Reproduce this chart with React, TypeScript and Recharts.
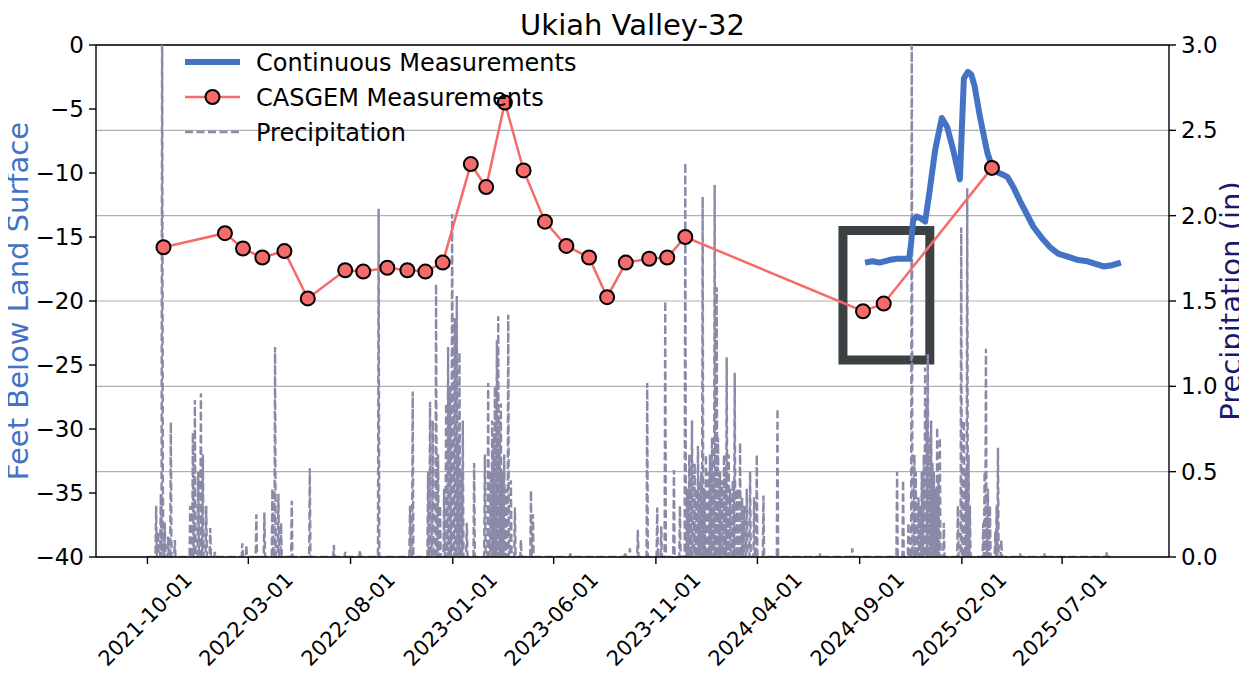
import React from 'react';
import {
  ComposedChart,
  Line,
  XAxis,
  YAxis,
  CartesianGrid,
  ReferenceLine,
  ReferenceArea,
  Legend,
} from 'recharts';

const FONT = '"DejaVu Sans", "Liberation Sans", sans-serif';
const BLUE = '#4472C4';
const RED = '#F56B6B';
const PRECIP = '#8A8AA8';
const BOX = '#3C4144';

const titleText = 'Ukiah Valley-32';
const leftLabel = 'Feet Below Land Surface';
const rightLabel = 'Precipitation (in)';
const legendNames = ['Continuous Measurements', 'CASGEM Measurements', 'Precipitation'];

// CASGEM manual measurements (feet below land surface, negative)
const casgemDates = [
  '2021-10-25', '2022-01-25', '2022-02-21', '2022-03-22', '2022-04-24', '2022-05-29',
  '2022-07-24', '2022-08-20', '2022-09-25', '2022-10-25', '2022-11-21', '2022-12-17',
  '2023-01-28', '2023-02-20', '2023-03-20', '2023-04-17', '2023-05-19', '2023-06-20',
  '2023-07-24', '2023-08-20', '2023-09-17', '2023-10-22', '2023-11-18', '2023-12-15',
  '2024-09-06', '2024-10-07', '2025-03-18',
];
const casgemValues = [
  -15.8, -14.7, -15.9, -16.6, -16.1, -19.8,
  -17.6, -17.7, -17.4, -17.6, -17.7, -17.0,
  -9.3, -11.1, -4.5, -9.8, -13.8, -15.7,
  -16.6, -19.7, -17.0, -16.7, -16.6, -15.0,
  -20.8, -20.2, -9.6,
];

// Continuous transducer record
const continuousDates = [
  '2024-09-09', '2024-09-20', '2024-10-01', '2024-10-15', '2024-10-27', '2024-11-14',
  '2024-11-17', '2024-11-20', '2024-11-25', '2024-11-30', '2024-12-08', '2024-12-15',
  '2024-12-23', '2025-01-02', '2025-01-10', '2025-01-19', '2025-01-29', '2025-02-01',
  '2025-02-04', '2025-02-10', '2025-02-15', '2025-02-20', '2025-02-28', '2025-03-11',
  '2025-03-20', '2025-04-02', '2025-04-10', '2025-04-20', '2025-04-30', '2025-05-19',
  '2025-06-01', '2025-06-13', '2025-06-25', '2025-07-13', '2025-07-25', '2025-08-08',
  '2025-08-20', '2025-09-01', '2025-09-14', '2025-09-27',
];
const continuousValues = [
  -17.0, -16.9, -17.0, -16.8, -16.7, -16.7,
  -15.5, -13.7, -13.4, -13.5, -13.8, -11.3,
  -8.2, -5.7, -6.4, -8.2, -10.5, -6.5,
  -2.6, -2.1, -2.3, -3.2, -5.6, -8.4,
  -9.8, -10.1, -10.3, -11.2, -12.3, -14.2,
  -15.1, -15.8, -16.3, -16.6, -16.8, -16.9,
  -17.1, -17.3, -17.2, -17.0,
];

// Daily precipitation: rain days read from the spikes (in)
const precipDates = [
  '2021-10-14', '2021-10-17', '2021-10-21', '2021-10-23', '2021-10-24', '2021-10-27',
  '2021-11-01', '2021-11-05', '2021-11-11', '2021-12-04', '2021-12-08', '2021-12-11',
  '2021-12-16', '2021-12-20', '2021-12-23', '2021-12-28', '2022-01-03', '2022-01-10',
  '2022-02-20', '2022-02-26', '2022-03-13', '2022-03-25', '2022-04-06', '2022-04-10',
  '2022-04-15', '2022-04-19', '2022-05-05', '2022-06-01', '2022-07-07', '2022-07-24',
  '2022-08-15', '2022-09-12', '2022-10-29', '2022-11-02', '2022-11-25', '2022-11-28',
  '2022-12-02', '2022-12-07', '2022-12-10', '2022-12-13', '2022-12-19', '2022-12-22',
  '2022-12-25', '2022-12-28', '2022-12-31', '2023-01-01', '2023-01-04', '2023-01-07',
  '2023-01-09', '2023-01-11', '2023-01-14', '2023-01-16', '2023-01-22', '2023-02-02',
  '2023-02-18', '2023-02-23', '2023-02-27', '2023-03-01', '2023-03-03', '2023-03-05',
  '2023-03-08', '2023-03-10', '2023-03-12', '2023-03-14', '2023-03-16', '2023-03-19',
  '2023-03-22', '2023-03-25', '2023-03-29', '2023-04-04', '2023-04-13', '2023-04-28',
  '2023-05-01', '2023-06-26', '2023-09-16', '2023-09-23', '2023-10-05', '2023-10-19',
  '2023-11-03', '2023-11-09', '2023-11-15', '2023-11-28', '2023-12-07', '2023-12-15',
  '2023-12-18', '2023-12-21', '2023-12-23', '2023-12-25', '2023-12-29', '2024-01-01',
  '2024-01-03', '2024-01-06', '2024-01-08', '2024-01-10', '2024-01-13', '2024-01-15',
  '2024-01-19', '2024-01-21', '2024-01-24', '2024-01-26', '2024-01-28', '2024-01-31',
  '2024-02-02', '2024-02-05', '2024-02-08', '2024-02-11', '2024-02-13', '2024-02-15',
  '2024-02-18', '2024-02-20', '2024-02-24', '2024-02-27', '2024-03-02', '2024-03-06',
  '2024-03-09', '2024-03-12', '2024-03-16', '2024-03-21', '2024-03-27', '2024-03-31',
  '2024-04-10', '2024-05-01', '2024-07-04', '2024-08-21', '2024-10-27', '2024-11-05',
  '2024-11-13', '2024-11-18', '2024-11-22', '2024-11-24', '2024-11-28', '2024-12-01',
  '2024-12-03', '2024-12-06', '2024-12-08', '2024-12-10', '2024-12-12', '2024-12-14',
  '2024-12-17', '2024-12-19', '2024-12-21', '2024-12-24', '2024-12-26', '2024-12-28',
  '2024-12-30', '2025-01-05', '2025-01-26', '2025-01-31', '2025-02-04', '2025-02-07',
  '2025-02-09', '2025-02-11', '2025-02-13', '2025-03-05', '2025-03-07', '2025-03-09',
  '2025-03-12', '2025-03-15', '2025-03-23', '2025-03-25', '2025-03-27', '2025-04-01',
  '2025-04-29', '2025-06-05', '2025-09-06',
];
const precipValues = [
  0.30, 0.15, 0.37, 3.30, 0.45, 0.20,
  0.12, 0.79, 0.10, 0.30, 0.73, 0.92,
  0.50, 0.96, 0.60, 0.30, 0.17, 0.03,
  0.08, 0.07, 0.25, 0.26, 0.40, 1.23,
  0.37, 0.20, 0.33, 0.52, 0.07, 0.03,
  0.04, 2.04, 0.30, 0.97, 0.50, 0.91,
  0.80, 1.60, 0.60, 0.30, 0.40, 0.90,
  1.23, 1.00, 2.01, 0.90, 1.40, 1.53,
  0.70, 1.20, 0.50, 0.80, 0.20, 0.55,
  0.60, 1.02, 0.50, 0.80, 0.70, 1.00,
  1.27, 1.41, 0.80, 0.90, 0.50, 0.60,
  0.40, 1.42, 0.45, 0.29, 0.10, 0.39,
  0.25, 0.02, 0.03, 0.05, 0.16, 1.02,
  0.29, 0.18, 1.50, 0.51, 0.30, 2.31,
  0.40, 0.60, 0.50, 0.80, 0.55, 0.40,
  0.65, 0.45, 0.50, 2.11, 0.40, 0.60,
  0.50, 0.60, 0.70, 0.50, 2.18, 1.58,
  0.70, 0.50, 0.45, 0.60, 0.50, 1.17,
  0.60, 0.40, 0.45, 1.08, 0.40, 0.67,
  0.35, 0.30, 0.40, 0.50, 0.35, 0.60,
  0.36, 0.87, 0.02, 0.05, 0.50, 0.45,
  0.20, 3.20, 0.60, 0.50, 0.35, 0.30,
  0.50, 0.60, 1.11, 0.90, 1.19, 0.70,
  0.80, 0.55, 0.50, 0.40, 0.76, 0.45,
  0.70, 0.20, 0.30, 1.93, 0.80, 0.50,
  2.16, 0.60, 0.30, 0.20, 0.50, 1.22,
  0.40, 0.30, 0.15, 0.30, 0.64, 0.10,
  0.02, 0.02, 0.03,
];
const precipRecord = ['2021-10-01', '2025-09-12'];

const xTickDates = [
  '2021-10-01', '2022-03-01', '2022-08-01', '2023-01-01', '2023-06-01',
  '2023-11-01', '2024-04-01', '2024-09-01', '2025-02-01', '2025-07-01',
];
const xDomainDates = ['2021-07-16', '2025-12-08'];
const depthTicks = [-40, -35, -30, -25, -20, -15, -10, -5, 0];
const precipTicks = [0, 0.5, 1.0, 1.5, 2.0, 2.5, 3.0];
const highlightBoxDates = ['2024-08-07', '2024-12-15'];
const highlightBoxDepths = [-24.6, -14.5];

const DAY_MS = 86400000;
const toDay = (s: string) =>
  Date.UTC(Number(s.slice(0, 4)), Number(s.slice(5, 7)) - 1, Number(s.slice(8, 10))) / DAY_MS;
const fromDay = (d: number) => new Date(d * DAY_MS).toISOString().slice(0, 10);

const casgemData = casgemDates.map((s, i) => ({ t: toDay(s), d: casgemValues[i] }));
const continuousData = continuousDates.map((s, i) => ({ t: toDay(s), d: continuousValues[i] }));

// Daily precipitation line: rain days plus the dry days around them
const precipMap = new Map<number, number>();
precipDates.forEach((s, i) => precipMap.set(toDay(s), precipValues[i]));
const rainDays = Array.from(precipMap.keys());
rainDays.forEach((d) => {
  [d - 1, d + 1].forEach((n) => {
    if (!precipMap.has(n)) precipMap.set(n, 0);
  });
});
precipRecord.forEach((s) => {
  const d = toDay(s);
  if (!precipMap.has(d)) precipMap.set(d, 0);
});
const precipData = Array.from(precipMap.entries())
  .sort((a, b) => a[0] - b[0])
  .map(([t, p]) => ({ t, p }));

const xTicks = xTickDates.map(toDay);
const xDomain = xDomainDates.map(toDay);

const CHART_W = 1247;
const CHART_H = 678;

const DateTick = (props: any) => {
  const { x, y, payload } = props;
  const label = fromDay(payload.value);
  const ax = x + 46;
  const ay = y + 11;
  return (
    <text
      x={ax}
      y={ay}
      transform={`rotate(-45 ${ax} ${ay})`}
      textAnchor="end"
      fontSize={21}
      fontFamily={FONT}
      fill="#000"
    >
      {label}
    </text>
  );
};

const LeftAxisLabel = (props: any) => {
  const vb = props.viewBox || { x: 0, y: 45, width: 96, height: 512 };
  const cx = vb.x + 18;
  const cy = vb.y + vb.height / 2;
  return (
    <text
      x={cx}
      y={cy}
      transform={`rotate(-90 ${cx} ${cy})`}
      textAnchor="middle"
      dominantBaseline="central"
      fontSize={29}
      fontFamily={FONT}
      fill={BLUE}
    >
      {leftLabel}
    </text>
  );
};

const RightAxisLabel = (props: any) => {
  const vb = props.viewBox || { x: 1169, y: 45, width: 78, height: 512 };
  const cx = vb.x + 62;
  const cy = vb.y + vb.height / 2;
  return (
    <text
      x={cx}
      y={cy}
      transform={`rotate(-90 ${cx} ${cy})`}
      textAnchor="middle"
      dominantBaseline="central"
      fontSize={29}
      fontFamily={FONT}
      fill="#191970"
    >
      {rightLabel}
    </text>
  );
};

const LegendContent = () => (
  <svg width={420} height={110} style={{ display: 'block', overflow: 'visible' }}>
    <line x1={0} x2={55} y1={17} y2={17} stroke={BLUE} strokeWidth={6} />
    <text x={71} y={17} dy="0.36em" fontSize={24} fontFamily={FONT} fill="#000">
      {legendNames[0]}
    </text>
    <line x1={0} x2={55} y1={52} y2={52} stroke={RED} strokeWidth={2.5} />
    <circle cx={27.5} cy={52} r={7} fill={RED} stroke="#000" strokeWidth={2} />
    <text x={71} y={52} dy="0.36em" fontSize={24} fontFamily={FONT} fill="#000">
      {legendNames[1]}
    </text>
    <line
      x1={0}
      x2={55}
      y1={87}
      y2={87}
      stroke={PRECIP}
      strokeWidth={2.4}
      strokeDasharray="8 3.5"
    />
    <text x={71} y={87} dy="0.36em" fontSize={24} fontFamily={FONT} fill="#000">
      {legendNames[2]}
    </text>
  </svg>
);

export default function App() {
  return (
    <div
      style={{
        position: 'relative',
        width: CHART_W,
        height: CHART_H,
        marginLeft: -8,
        marginTop: -8,
        background: '#fff',
      }}
    >
      <ComposedChart
        width={CHART_W}
        height={CHART_H}
        margin={{ top: 45, right: 0, bottom: 21, left: 0 }}
      >
        <CartesianGrid
          yAxisId="right"
          vertical={false}
          stroke="#b0b0b0"
          strokeWidth={1.2}
        />
        <XAxis
          dataKey="t"
          type="number"
          domain={xDomain}
          ticks={xTicks}
          interval={0}
          allowDataOverflow
          height={100}
          tickSize={7}
          tickMargin={6}
          tick={<DateTick />}
          tickLine={{ stroke: '#000', strokeWidth: 1.4 }}
          axisLine={{ stroke: '#000', strokeWidth: 1.4 }}
        />
        <YAxis
          yAxisId="left"
          type="number"
          domain={[-40, 0]}
          ticks={depthTicks}
          interval={0}
          width={96}
          tickSize={7}
          tickMargin={5}
          tickFormatter={(v: number) => (v < 0 ? `\u2212${Math.abs(v)}` : `${v}`)}
          tick={{ fill: '#000', fontSize: 23, fontFamily: FONT }}
          tickLine={{ stroke: '#000', strokeWidth: 1.4 }}
          axisLine={{ stroke: '#000', strokeWidth: 1.4 }}
          label={<LeftAxisLabel />}
        />
        <YAxis
          yAxisId="right"
          orientation="right"
          type="number"
          domain={[0, 3]}
          ticks={precipTicks}
          interval={0}
          allowDataOverflow
          width={78}
          tickSize={7}
          tickMargin={5}
          tickFormatter={(v: number) => v.toFixed(1)}
          tick={{ fill: '#000', fontSize: 23, fontFamily: FONT }}
          tickLine={{ stroke: '#000', strokeWidth: 1.4 }}
          axisLine={{ stroke: '#000', strokeWidth: 1.4 }}
          label={<RightAxisLabel />}
        />
        <ReferenceLine yAxisId="left" y={0} stroke="#000" strokeWidth={1.4} />
        <Line
          data={precipData}
          dataKey="p"
          yAxisId="right"
          type="linear"
          stroke={PRECIP}
          strokeWidth={2.4}
          strokeDasharray="8 3.5"
          dot={false}
          activeDot={false}
          isAnimationActive={false}
          legendType="none"
        />
        <Line
          data={continuousData}
          dataKey="d"
          yAxisId="left"
          type="linear"
          stroke={BLUE}
          strokeWidth={6}
          strokeLinejoin="round"
          dot={false}
          activeDot={false}
          isAnimationActive={false}
        />
        <Line
          data={casgemData}
          dataKey="d"
          yAxisId="left"
          type="linear"
          stroke={RED}
          strokeWidth={2.5}
          dot={{ r: 7, fill: RED, stroke: '#000', strokeWidth: 2 }}
          activeDot={false}
          isAnimationActive={false}
        />
        <ReferenceArea
          yAxisId="left"
          x1={toDay(highlightBoxDates[0])}
          x2={toDay(highlightBoxDates[1])}
          y1={highlightBoxDepths[0]}
          y2={highlightBoxDepths[1]}
          fill="none"
          fillOpacity={0}
          stroke={BOX}
          strokeWidth={9}
          ifOverflow="visible"
        />
        <Legend
          layout="vertical"
          align="center"
          verticalAlign="middle"
          content={<LegendContent />}
          wrapperStyle={{ left: 185, top: 45, width: 420, height: 110 }}
        />
      </ComposedChart>
      <svg
        width={CHART_W}
        height={50}
        style={{ position: 'absolute', left: 0, top: 0, pointerEvents: 'none' }}
      >
        <text x={632.5} y={35} textAnchor="middle" fontSize={29} fontFamily={FONT} fill="#000">
          {titleText}
        </text>
      </svg>
    </div>
  );
}
